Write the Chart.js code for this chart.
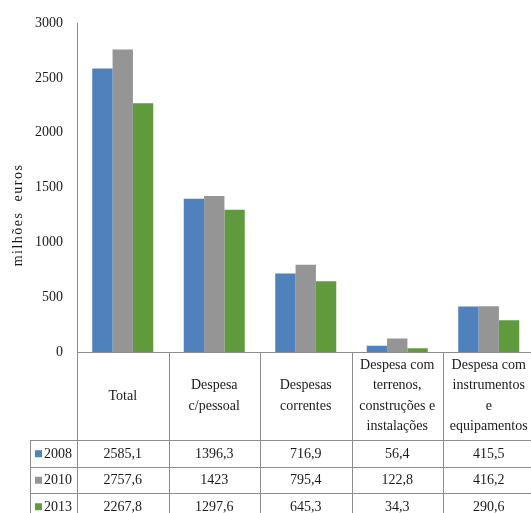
<!DOCTYPE html>
<html>
<head>
<meta charset="utf-8">
<script src="https://cdn.jsdelivr.net/npm/chart.js@4/dist/chart.umd.min.js"></script>
<style>
  html, body { margin: 0; padding: 0; background: #fff; overflow: hidden; }
  #wrap { width: 540px; height: 513px; }
</style>
</head>
<body>
<div id="wrap"><canvas id="BarGraph" width="540" height="513"></canvas></div>
<script>
const ctx = document.getElementById('BarGraph');

const categories = [
    ['Total'],
    ['Despesa', 'c/pessoal'],
    ['Despesas', 'correntes'],
    ['Despesa com', 'terrenos,', 'construções e', 'instalações'],
    ['Despesa com', 'instrumentos', 'e', 'equipamentos']
];
const years = ['2008', '2010', '2013'];
const values2008 = [2585.1, 1396.3, 716.9, 56.4, 415.5];
const values2010 = [2757.6, 1423, 795.4, 122.8, 416.2];
const values2013 = [2267.8, 1297.6, 645.3, 34.3, 290.6];
const yTicks = [0, 500, 1000, 1500, 2000, 2500, 3000];
const colors = ['#4f81bd', '#959595', '#5f9a3c'];

const serif = '"Liberation Serif", "Times New Roman", serif';
const lineColor = '#8c8c8c';

// data table under the plot, plus the axis lines and the rotated unit label
const tablePlugin = {
    id: 'dataTable',
    afterDraw(chart) {
        const c = chart.ctx;
        const area = chart.chartArea;
        const x = chart.scales.x;
        const n = categories.length;
        const colW = (area.right - area.left) / n;
        const headerBottom = area.bottom + 88;
        const rowH = 26.5;
        const legendLeft = 30.5;
        const bottom = chart.height + 10;

        c.save();
        c.strokeStyle = lineColor;
        c.lineWidth = 1;
        c.beginPath();
        // value axis
        c.moveTo(area.left + 0.5, area.top);
        c.lineTo(area.left + 0.5, bottom);
        // zero line
        c.moveTo(area.left, area.bottom + 0.5);
        c.lineTo(area.right, area.bottom + 0.5);
        // column borders
        for (let i = 1; i <= n; i++) {
            const bx = Math.round(area.left + colW * i) + 0.5;
            c.moveTo(bx, area.bottom);
            c.lineTo(bx, bottom);
        }
        // row lines
        for (let r = 0; r < years.length; r++) {
            const ry = Math.round(headerBottom + rowH * r) + 0.5;
            c.moveTo(legendLeft, ry);
            c.lineTo(area.right, ry);
        }
        c.moveTo(legendLeft, headerBottom);
        c.lineTo(legendLeft, bottom);
        c.stroke();

        // header labels
        c.fillStyle = '#1a1a1a';
        c.font = '14px ' + serif;
        c.textAlign = 'center';
        c.textBaseline = 'middle';
        const lh = 20.5;
        const midHeader = (area.bottom + headerBottom) / 2;
        categories.forEach((lines, i) => {
            const cx = x.getPixelForValue(i);
            const startY = midHeader - (lines.length - 1) * lh / 2;
            lines.forEach((t, k) => c.fillText(t, cx, startY + k * lh));
        });

        // value rows
        chart.data.datasets.forEach((ds, r) => {
            const cy = headerBottom + rowH * r + rowH / 2 + 1;
            c.textAlign = 'center';
            ds.data.forEach((v, i) => {
                c.fillText(String(v).replace('.', ','), x.getPixelForValue(i), cy);
            });
            c.fillStyle = ds.backgroundColor;
            c.fillRect(35, cy - 4, 7, 7);
            c.fillStyle = '#1a1a1a';
            c.textAlign = 'left';
            c.fillText(ds.label, 44, cy);
        });

        // unit label
        c.translate(18, 215);
        c.rotate(-Math.PI / 2);
        c.font = '14px ' + serif;
        c.letterSpacing = '1.5px';
        c.textAlign = 'center';
        c.fillText('milhões  euros', 0, 0);
        c.restore();
    }
};

new Chart(ctx, {
    type: 'bar',
    data: {
        labels: categories,
        datasets: [
            { label: years[0], data: values2008, backgroundColor: colors[0] },
            { label: years[1], data: values2010, backgroundColor: colors[1] },
            { label: years[2], data: values2013, backgroundColor: colors[2] }
        ]
    },
    options: {
        responsive: false,
        animation: false,
        layout: { padding: { top: 23, bottom: 161, left: 0, right: 5.5 } },
        datasets: {
            bar: { categoryPercentage: 0.667, barPercentage: 1, borderWidth: 0 }
        },
        scales: {
            x: { display: false },
            y: {
                min: 0,
                max: 3000,
                afterFit: (scale) => { scale.width = 77; },
                afterBuildTicks: (scale) => { scale.ticks = yTicks.map(v => ({ value: v })); },
                border: { display: false },
                grid: { display: false, drawTicks: false },
                ticks: {
                    padding: 14,
                    color: '#1a1a1a',
                    font: { family: serif, size: 14 },
                    callback: (v) => String(v)
                }
            }
        },
        plugins: {
            legend: { display: false },
            tooltip: { enabled: false },
            title: { display: false }
        }
    },
    plugins: [tablePlugin]
});
</script>
</body>
</html>
